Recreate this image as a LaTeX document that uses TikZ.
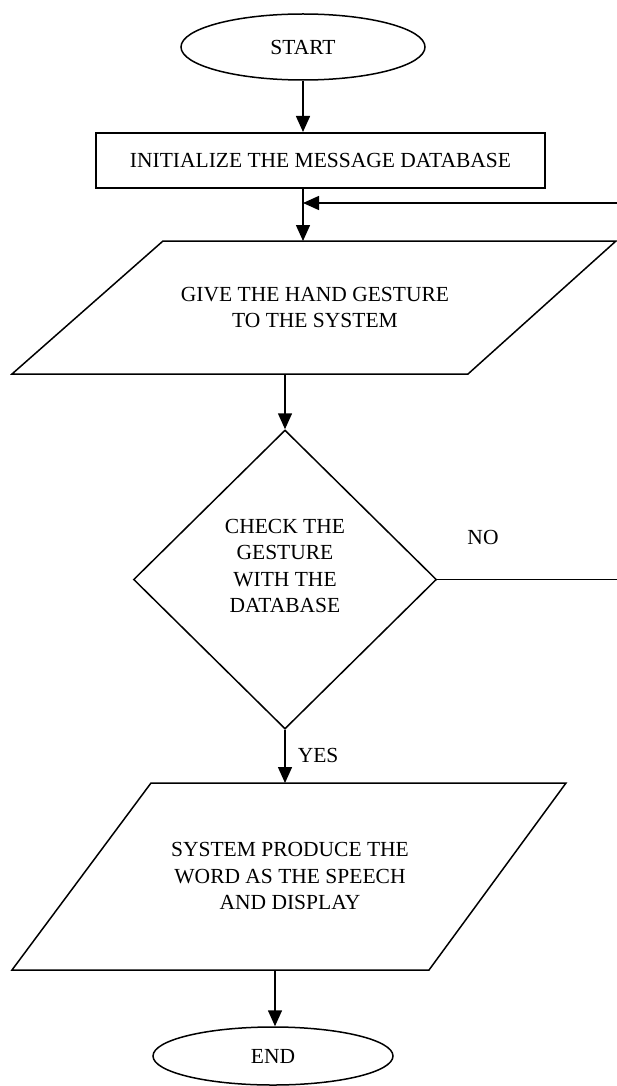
\documentclass[tikz,border=0pt]{standalone}
\usepackage{fontspec}
\setmainfont{Liberation Serif}
\usetikzlibrary{shapes.geometric,arrows.meta}
\begin{document}
\begin{tikzpicture}[x=1pt,y=-1pt,
  line width=1.5pt,
  txt/.style={font=\fontsize{21.5}{26.5}\selectfont, align=center, inner sep=0pt},
  term/.style={ellipse, draw, line width=1.5pt, minimum width=244pt, minimum height=66pt, inner sep=0pt, txt},
  procbox/.style={rectangle, draw, line width=2pt, minimum width=449pt, minimum height=55pt, inner sep=0pt, txt},
  decide/.style={diamond, draw, line width=1.5pt, minimum width=303pt, minimum height=299pt, inner sep=0pt},
  iobox/.style={draw, line width=1.5pt, line join=miter},
  flow/.style={-{Triangle[length=16pt,width=14pt]}}]
\useasboundingbox (0,0) rectangle (616,1086);

% shapes
\node[term] (start) at (303,47) {START};
\node[procbox] (init) at (320.5,160.5) {INITIALIZE THE MESSAGE DATABASE};

\draw[iobox] (163,241) -- (616,241) -- (468,374) -- (12,374) -- cycle;
\node[txt] (give) at (315,307.5) {GIVE THE HAND GESTURE\\TO THE SYSTEM};
\coordinate (p1n) at (303,241);
\coordinate (p1s) at (285,374);

\node[decide] (dia) at (285,579.5) {};
\node[txt] (check) at (285,566) {CHECK THE\\GESTURE\\WITH THE\\DATABASE};

\draw[iobox] (151,783) -- (566,783) -- (429,970) -- (12,970) -- cycle;
\node[txt] (produce) at (290,876) {SYSTEM PRODUCE THE\\WORD AS THE SPEECH\\AND DISPLAY};
\coordinate (p2n) at (285,783);
\coordinate (p2s) at (275,970);

\node[term, minimum width=240pt, minimum height=58pt] (end) at (273,1056) {END};

% labels
\node[txt] (no) at (483,537) {NO};
\node[txt, anchor=west] (yes) at (297,755) {YES};

% loop coordinates
\coordinate (join) at (303,203);
\coordinate (loopR) at (617.5,203);
\coordinate (noR) at (617.5,579.5);

% connectors
\draw[flow] (start.south) -- (start.south |- init.north);
\draw[flow] (init.south -| p1n) -- (p1n);
\draw[flow] (loopR) -- (join);
\draw[flow] (p1s) -- (dia.north);
\draw (dia.east) -- (noR) -- (loopR);
\draw[flow] (dia.south) -- (p2n);
\draw[flow] (p2s) -- (p2s |- end.north);
\end{tikzpicture}
\end{document}
